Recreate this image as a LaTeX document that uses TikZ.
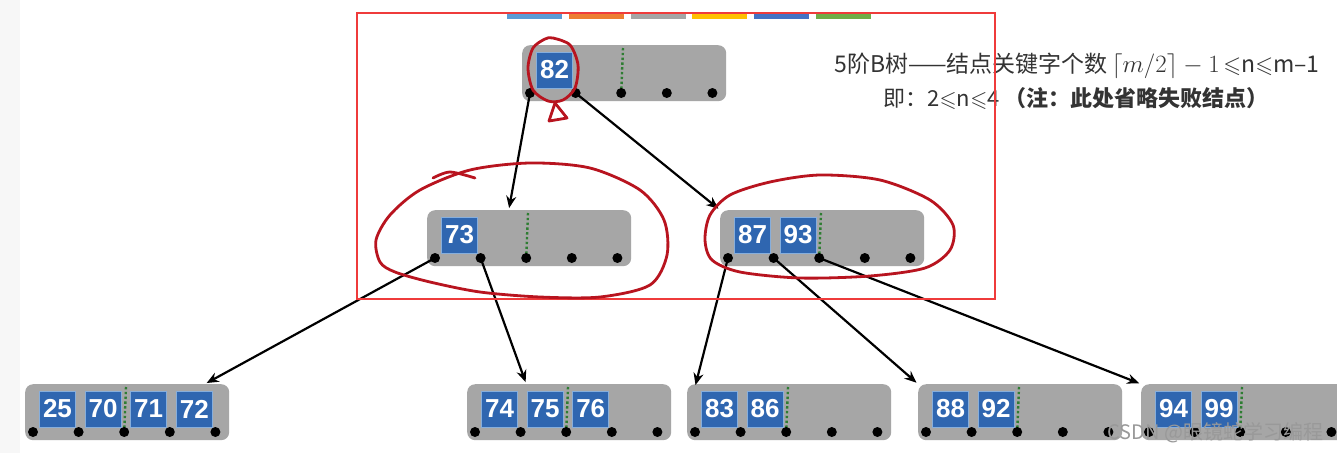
\documentclass[tikz,border=0pt]{standalone}
\usepackage{amsmath,amssymb}
\usepackage{fontspec}
\setmainfont{Liberation Sans}
\newfontfamily\cjk{Noto Sans CJK SC}
\usetikzlibrary{arrows.meta,positioning,calc}
\definecolor{nodegray}{HTML}{A6A6A6}
\definecolor{keyblue}{HTML}{2F66B0}
\definecolor{keyedge}{HTML}{86AEDC}
\definecolor{slotgreen}{HTML}{2E7D32}
\definecolor{penred}{HTML}{B8141F}
\definecolor{boxred}{HTML}{EF3B3B}
\definecolor{txtgray}{HTML}{333333}
\definecolor{bar0}{HTML}{5B9BD5}
\definecolor{bar1}{HTML}{ED7D31}
\definecolor{bar2}{HTML}{A5A5A5}
\definecolor{bar3}{HTML}{FFC000}
\definecolor{bar4}{HTML}{4472C4}
\definecolor{bar5}{HTML}{70AD47}

\begin{document}
\begin{tikzpicture}[x=1pt, y=-1pt, >={Stealth[length=12pt,width=10pt]},
  bnode/.style={rectangle, rounded corners=8pt, fill=nodegray, minimum width=204pt,
    minimum height=56pt, anchor=north west, inner sep=0pt},
  keybox/.style={rectangle, fill=keyblue, draw=keyedge, line width=0.8pt, minimum size=36pt,
    inner sep=0pt, text=white, font=\fontsize{26}{26}\selectfont\bfseries},
  slot/.style={slotgreen, line width=2.4pt, dash pattern=on 2.4pt off 2.4pt},
  link/.style={->, line width=2.2pt, shorten >=2pt},
  pen/.style={penred, line width=2.8pt, line cap=round, line join=round}]

  \clip (0,0) rectangle (1337,453);
  \fill[white] (0,0) rectangle (1337,453);
  \fill[black!3] (0,0) rectangle (20,453);

  % colour bars under the frame
  \foreach \i in {0,...,5}
    \fill[bar\i] (507+61.8*\i,12) rectangle ++(55,7);

  % nodes: name/left/top
  \foreach \n/\l/\t in {root/522/45, ml/427/210, mr/720/210, la/25/384,
                        lb/467/384, lc/687/384, ld/918/384, le/1141/384} {
    \node[bnode] (\n) at (\l,\t) {};
    \foreach \k in {0,...,4}
      \coordinate (\n-d\k) at ($(\n.north west)+(8+45.6*\k,48)$);
    \draw[slot] ($(\n.north west)+(101,3)$) -- (\n-d2);
  }

  % keys
  \foreach \n/\keys in {root/{82}, ml/{73}, mr/{87,93}, la/{25,70,71,72},
                        lb/{74,75,76}, lc/{83,86}, ld/{88,92}, le/{94,99}} {
    \foreach \v [count=\j from 0] in \keys
      \node[keybox] (\n-k\j) at ($(\n.north west)+(32.5+45.6*\j,25)$) {\v};
    \foreach \k in {0,...,4}
      \fill (\n-d\k) circle (5pt);
  }

  % pointers
  \draw[link] (root-d0) -- ($(ml.north west)!0.40!(ml.north east)$);
  \draw[link] (root-d1) -- (mr.north west);
  \draw[link] (ml-d0) -- ($(la.north west)!0.88!(la.north east)$);
  \draw[link] (ml-d1) -- ($(lb.north west)!0.29!(lb.north east)$);
  \draw[link] (mr-d0) -- ($(lc.north west)+(8,3)$);
  \draw[link] (mr-d1) -- (ld.north west);
  \draw[link] (mr-d2) -- (le.north west);

  \node[text=txtgray, font=\cjk\fontsize{23}{26}\selectfont] (title) at (1077,66)
    {5阶B树——结点关键字个数\,$\lceil m/2\rceil - 1$\,$\leqslant$n$\leqslant$m–1};
  \node[text=txtgray, font=\cjk\fontsize{22}{26}\selectfont] (note) at (1076,99)
    {即：2$\leqslant$n$\leqslant$4 {\bfseries （注：此处省略失败结点）}};

  % red marks
  \draw[boxred, line width=2.6pt] (357,13) rectangle (995,299);
  \draw[pen] plot[smooth cycle] coordinates {(553,38) (570,45) (578,65) (575,88) (563,100)
    (548,101) (533,90) (528,68) (533,48) (545,39)};
  \draw[pen] (555,103) -- (549,121) -- (567,118) -- cycle;
  \draw[pen] plot[smooth cycle] coordinates {(380,262) (376,240) (390,215) (420,190) (470,170)
    (530,163) (590,168) (640,190) (664,220) (667,255) (650,285) (600,297) (540,297)
    (480,292) (430,282) (395,272)};
  \draw[pen] plot[smooth] coordinates {(433,178) (450,172) (475,178)};
  \draw[pen] plot[smooth cycle] coordinates {(705,240) (710,215) (730,195) (770,182) (820,175)
    (880,180) (930,200) (953,225) (950,250) (925,268) (870,276) (800,278) (740,272)
    (712,260)};

  \node[text=black!40, anchor=west, font=\cjk\fontsize{20}{20}\selectfont] (mark) at (1104,433)
    {CSDN @眼镜蛇学习编程};
\end{tikzpicture}
\end{document}
